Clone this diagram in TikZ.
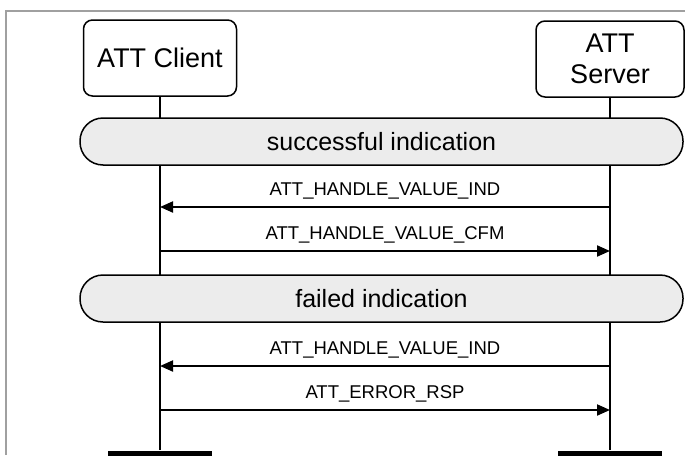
\documentclass[tikz,border=0pt]{standalone}
\usepackage{fontspec}
\setmainfont{Liberation Sans}
\usetikzlibrary{arrows.meta}
\definecolor{frameline}{HTML}{A0A0A0}
\definecolor{bannerfill}{HTML}{ECECEC}

\begin{document}
\begin{tikzpicture}[
  x=1pt, y=-1pt,
  entity/.style={draw, line width=1.5pt, rounded corners=9pt, inner sep=0pt,
                 align=center, font=\fontsize{27}{31}\selectfont},
  banner/.style={draw, line width=1.5pt, rounded corners=23pt, fill=bannerfill,
                 minimum width=603pt, minimum height=47pt, inner sep=0pt,
                 font=\fontsize{25}{29}\selectfont},
  endbar/.style={fill=black, minimum width=104pt, minimum height=5pt, inner sep=0pt},
  lifeline/.style={line width=1.7pt},
  msg/.style={line width=2pt, -{Triangle[length=13pt, width=11pt]}},
  msglabel/.style={font=\fontsize{18.5}{20}\selectfont, anchor=base, inner sep=0pt,
                   yshift=12pt},
]
\useasboundingbox (0,0) rectangle (685,455);

\draw[frameline, line width=1.5pt] (6,455) -- (6,11) -- (685,11);

\node[entity, minimum width=153pt, minimum height=76pt] (client) at (160,58) {ATT Client};
\node[entity, minimum width=148pt, minimum height=76pt] (server) at (610,59) {ATT\\Server};

\node[endbar] (cbar) at (160,453) {};
\node[endbar] (sbar) at (610,453) {};

\draw[lifeline] (client) -- (cbar);
\draw[lifeline] (server) -- (sbar);

\node[banner] (success) at (381.5,141.5) {successful indication};
\node[banner] (failed) at (381.5,298.5) {failed indication};

\coordinate (c1) at (160,207);
\coordinate (s1) at (610,207);
\coordinate (c2) at (160,251);
\coordinate (s2) at (610,251);
\coordinate (c3) at (160,366);
\coordinate (s3) at (610,366);
\coordinate (c4) at (160,410);
\coordinate (s4) at (610,410);

\draw[msg] (s1) -- (c1) node[msglabel, midway] {ATT\_HANDLE\_VALUE\_IND};
\draw[msg] (c2) -- (s2) node[msglabel, midway] {ATT\_HANDLE\_VALUE\_CFM};
\draw[msg] (s3) -- (c3) node[msglabel, midway] {ATT\_HANDLE\_VALUE\_IND};
\draw[msg] (c4) -- (s4) node[msglabel, midway] {ATT\_ERROR\_RSP};

\end{tikzpicture}
\end{document}
